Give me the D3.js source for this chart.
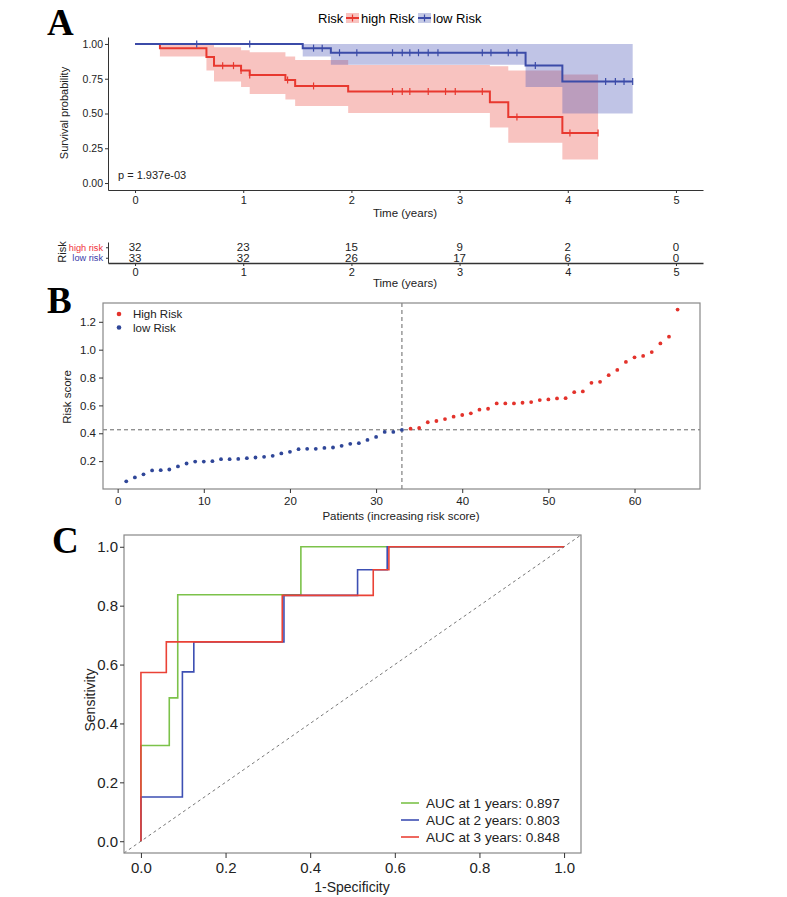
<!DOCTYPE html>
<html>
<head>
<meta charset="utf-8">
<script src="https://cdn.jsdelivr.net/npm/d3@7"></script>
<style>
  body { margin: 0; background: #fff; }
  text { font-family: "Liberation Sans", Arial, sans-serif; }
</style>
</head>
<body>
<script>
// ---------- data: panel A (Kaplan-Meier) ----------
var highTimes = [0, 0.23, 0.66, 0.73, 0.98, 1.06, 1.39, 1.48, 1.97, 3.28, 3.45, 3.95, 4.28];
var highSurv  = [1, 0.969, 0.906, 0.844, 0.81, 0.777, 0.741, 0.698, 0.658, 0.58, 0.475, 0.36, 0.36];
var highLower = [1, 0.91, 0.81, 0.73, 0.69, 0.64, 0.60, 0.554, 0.504, 0.40, 0.29, 0.17, 0.17];
var highUpper = [1, 1, 1, 0.977, 0.955, 0.94, 0.91, 0.885, 0.849, 0.84, 0.81, 0.78, 0.78];
var highCensor = [0.81, 0.91, 0.98, 1.06, 1.41, 1.65, 2.38, 2.47, 2.54, 2.71, 2.87, 2.96, 3.21, 3.53, 4.02, 4.28];

var lowTimes = [0, 1.55, 1.81, 3.61, 3.95, 4.6];
var lowSurv  = [1, 0.97, 0.937, 0.845, 0.73, 0.73];
var lowLower = [1, 0.91, 0.85, 0.69, 0.5, 0.5];
var lowUpper = [1, 1, 1, 1, 1, 1];
var lowCensor = [0.57, 1.06, 1.65, 1.73, 1.89, 2.05, 2.38, 2.47, 2.54, 2.62, 2.71, 2.80,
                 3.21, 3.29, 3.45, 3.53, 3.70, 4.35, 4.44, 4.52, 4.60];

var timeTicks = [0, 1, 2, 3, 4, 5];
var survTicks = [0, 0.25, 0.5, 0.75, 1];
var legendLabels = ["high Risk", "low Risk"];
var riskRows = ["high risk", "low risk"];
var highAtRisk = [32, 23, 15, 9, 2, 0];
var lowAtRisk  = [33, 32, 26, 17, 6, 0];

// ---------- data: panel B (risk score) ----------
var lowScores = [0.055, 0.083, 0.105, 0.133, 0.135, 0.14, 0.162, 0.183, 0.197, 0.197, 0.2,
                 0.214, 0.214, 0.216, 0.221, 0.226, 0.231, 0.238, 0.255, 0.267, 0.286, 0.288,
                 0.288, 0.295, 0.298, 0.31, 0.324, 0.329, 0.352, 0.374, 0.41, 0.41, 0.424];
var highScores = [0.433, 0.438, 0.479, 0.488, 0.502, 0.519, 0.531, 0.543, 0.569, 0.576,
                  0.614, 0.614, 0.614, 0.619, 0.624, 0.638, 0.643, 0.65, 0.652, 0.695, 0.7,
                  0.762, 0.769, 0.817, 0.855, 0.912, 0.945, 0.955, 0.983, 1.045, 1.093, 1.288];
var scoreCutoff = 0.425;
var patientTicks = [0, 10, 20, 30, 40, 50, 60];
var scoreTicks = [0.2, 0.4, 0.6, 0.8, 1.0, 1.2];
var scoreLegend = ["High Risk", "low Risk"];

// ---------- data: panel C (time-dependent ROC) ----------
var roc1Fpr = [0, 0, 0.067, 0.087, 0.378, 1];
var roc1Tpr = [0, 0.325, 0.487, 0.837, 1, 1];
var roc2Fpr = [0, 0, 0.098, 0.125, 0.338, 0.512, 0.582, 1];
var roc2Tpr = [0, 0.15, 0.575, 0.677, 0.835, 0.922, 1, 1];
var roc3Fpr = [0, 0, 0.06, 0.334, 0.549, 0.586, 1];
var roc3Tpr = [0, 0.573, 0.677, 0.835, 0.922, 1, 1];
var rocLabels = ["AUC at 1 years: 0.897", "AUC at 2 years: 0.803", "AUC at 3 years: 0.848"];
var rocTicks = [0, 0.2, 0.4, 0.6, 0.8, 1.0];

var RED = "#e8382f", BLUE = "#3b4ba8";

var svg = d3.select("body").append("svg")
    .attr("width", 787)
    .attr("height", 897);

function styleAxis(g, size, color) {
  g.selectAll("text").style("font-size", size + "px").attr("fill", color || "#222");
  g.selectAll("line").attr("stroke", "#333");
  g.select(".domain").attr("stroke", "#333");
}

function panelLabel(txt, x, y) {
  svg.append("text")
      .attr("x", x).attr("y", y)
      .style("font-family", "'Liberation Serif', 'Times New Roman', serif")
      .style("font-weight", "bold")
      .style("font-size", "37px")
      .text(txt);
}

// ================= Panel A =================
panelLabel("A", 47, 35);

var kmX = d3.scaleLinear().domain([-0.25, 5.25]).range([108, 703]);
var kmY = d3.scaleLinear().domain([-0.05, 1.05]).range([190, 37]);

function zipKm(times, a, b) {
  return times.map(function(t, i) { return {t: t, a: a[i], b: b ? b[i] : null}; });
}
function survAt(times, surv, t) {
  var s = surv[0];
  times.forEach(function(tt, i) { if (tt <= t) s = surv[i]; });
  return s;
}

var band = d3.area().curve(d3.curveStepAfter)
    .x(function(d) { return kmX(d.t); })
    .y0(function(d) { return kmY(d.a); })
    .y1(function(d) { return kmY(d.b); });
var step = d3.line().curve(d3.curveStepAfter)
    .x(function(d) { return kmX(d.t); })
    .y(function(d) { return kmY(d.a); });

svg.append("path").datum(zipKm(highTimes, highLower, highUpper))
    .attr("d", band).attr("fill", RED).attr("fill-opacity", 0.3);
svg.append("path").datum(zipKm(lowTimes, lowLower, lowUpper))
    .attr("d", band).attr("fill", "#4a55b8").attr("fill-opacity", 0.35);

var groups = [
  {times: highTimes, surv: highSurv, censor: highCensor, color: RED},
  {times: lowTimes, surv: lowSurv, censor: lowCensor, color: BLUE}
];
groups.forEach(function(g) {
  svg.append("path").datum(zipKm(g.times, g.surv))
      .attr("d", step).attr("fill", "none")
      .attr("stroke", g.color).attr("stroke-width", 2);
  svg.append("g").selectAll("line")
      .data(g.censor)
      .enter()
      .append("line")
      .attr("x1", function(d) { return kmX(d); })
      .attr("x2", function(d) { return kmX(d); })
      .attr("y1", function(d) { return kmY(survAt(g.times, g.surv, d)) - 3.5; })
      .attr("y2", function(d) { return kmY(survAt(g.times, g.surv, d)) + 3.5; })
      .attr("stroke", g.color).attr("stroke-width", 1.2);
});

var kmYAxis = svg.append("g")
    .attr("transform", "translate(108,0)")
    .call(d3.axisLeft(kmY).tickValues(survTicks).tickFormat(d3.format(".2f"))
        .tickSize(3).tickSizeOuter(0).tickPadding(2));
styleAxis(kmYAxis, 10.5);
var kmXAxis = svg.append("g")
    .attr("transform", "translate(0,190)")
    .call(d3.axisBottom(kmX).tickValues(timeTicks).tickFormat(d3.format("d"))
        .tickSize(3).tickSizeOuter(0).tickPadding(3));
styleAxis(kmXAxis, 11);

svg.append("text").attr("transform", "translate(68,113) rotate(-90)")
    .attr("text-anchor", "middle").style("font-size", "11px").attr("fill", "#222")
    .text("Survival probability");
svg.append("text").attr("x", 405).attr("y", 217)
    .attr("text-anchor", "middle").style("font-size", "11.5px").attr("fill", "#222")
    .text("Time (years)");
svg.append("text").attr("x", 118).attr("y", 179)
    .style("font-size", "11px").attr("fill", "#222")
    .text("p = 1.937e-03");

// legend
svg.append("text").attr("x", 318).attr("y", 22.5).style("font-size", "13px").text("Risk");
var legX = [346, 418];
[RED, BLUE].forEach(function(c, i) {
  var lg = svg.append("g").attr("transform", "translate(" + legX[i] + ",0)");
  lg.append("rect").attr("x", 0).attr("y", 13).attr("width", 13).attr("height", 10)
      .attr("fill", c).attr("fill-opacity", 0.3);
  lg.append("line").attr("x1", 0).attr("x2", 13).attr("y1", 18).attr("y2", 18)
      .attr("stroke", c).attr("stroke-width", 2);
  lg.append("line").attr("x1", 6.5).attr("x2", 6.5).attr("y1", 14.5).attr("y2", 21.5)
      .attr("stroke", c).attr("stroke-width", 1.2);
  lg.append("text").attr("x", 15).attr("y", 22.5).style("font-size", "13px")
      .text(legendLabels[i]);
});

// risk table
var tblY = d3.scalePoint().domain(riskRows).range([242, 263]).padding(0.5);
var tblYAxis = svg.append("g")
    .attr("transform", "translate(108,0)")
    .call(d3.axisLeft(tblY).tickSize(2).tickSizeOuter(0).tickPadding(3));
styleAxis(tblYAxis, 9.2);
tblYAxis.selectAll("text").attr("fill", function(d, i) { return i === 0 ? "#f0303a" : "#3a3aa8"; });
var tblXAxis = svg.append("g")
    .attr("transform", "translate(0,263)")
    .call(d3.axisBottom(kmX).tickValues(timeTicks).tickFormat(d3.format("d"))
        .tickSize(3).tickSizeOuter(0).tickPadding(2));
styleAxis(tblXAxis, 11);
tblXAxis.select(".domain").attr("stroke-width", 1.3);

[highAtRisk, lowAtRisk].forEach(function(vals, r) {
  svg.append("g").selectAll("text")
      .data(vals)
      .enter()
      .append("text")
      .attr("x", function(d, i) { return kmX(timeTicks[i]); })
      .attr("y", tblY(riskRows[r]) + 4)
      .attr("text-anchor", "middle")
      .style("font-size", "11.5px").attr("fill", "#222")
      .text(function(d) { return d; });
});
svg.append("text").attr("transform", "translate(66,252) rotate(-90)")
    .attr("text-anchor", "middle").style("font-size", "11px").attr("fill", "#222")
    .text("Risk");
svg.append("text").attr("x", 405).attr("y", 287)
    .attr("text-anchor", "middle").style("font-size", "11.5px").attr("fill", "#222")
    .text("Time (years)");

// ================= Panel B =================
panelLabel("B", 47, 313);

var rsX = d3.scaleLinear().domain([-1.7, 67.6]).range([103, 700]);
var rsY = d3.scaleLinear().domain([0, 1.335]).range([489, 303]);

var scores = lowScores.map(function(s, i) { return {p: i + 1, s: s, g: 0}; })
    .concat(highScores.map(function(s, i) { return {p: lowScores.length + i + 1, s: s, g: 1}; }));

svg.append("line").attr("x1", 103).attr("x2", 700)
    .attr("y1", rsY(scoreCutoff)).attr("y2", rsY(scoreCutoff))
    .attr("stroke", "#666").attr("stroke-dasharray", "4,3");
svg.append("line").attr("x1", rsX(lowScores.length)).attr("x2", rsX(lowScores.length))
    .attr("y1", 303).attr("y2", 489)
    .attr("stroke", "#666").attr("stroke-dasharray", "4,3");

svg.append("g").selectAll("circle")
    .data(scores)
    .enter()
    .append("circle")
    .attr("cx", function(d) { return rsX(d.p); })
    .attr("cy", function(d) { return rsY(d.s); })
    .attr("r", 1.9)
    .attr("fill", function(d) { return d.g ? "#e3322b" : "#2f4698"; });

svg.append("rect").attr("x", 103).attr("y", 303).attr("width", 597).attr("height", 186)
    .attr("fill", "none").attr("stroke", "#888").attr("stroke-width", 1.2);

var rsXAxis = svg.append("g").attr("transform", "translate(0,489)")
    .call(d3.axisBottom(rsX).tickValues(patientTicks).tickSize(4).tickPadding(4));
rsXAxis.select(".domain").remove();
styleAxis(rsXAxis, 11.5);
var rsYAxis = svg.append("g").attr("transform", "translate(103,0)")
    .call(d3.axisLeft(rsY).tickValues(scoreTicks).tickFormat(d3.format(".1f")).tickSize(4).tickPadding(3));
rsYAxis.select(".domain").remove();
styleAxis(rsYAxis, 11.5);

svg.append("text").attr("transform", "translate(71,397) rotate(-90)")
    .attr("text-anchor", "middle").style("font-size", "11.5px").attr("fill", "#222")
    .text("Risk score");
svg.append("text").attr("x", 401).attr("y", 520)
    .attr("text-anchor", "middle").style("font-size", "11.5px").attr("fill", "#222")
    .text("Patients (increasing risk score)");

["#e3322b", "#2f4698"].forEach(function(c, i) {
  svg.append("circle").attr("cx", 119).attr("cy", 314 + i * 13.5).attr("r", 2.3).attr("fill", c);
  svg.append("text").attr("x", 133).attr("y", 318 + i * 13.5)
      .style("font-size", "11.5px").attr("fill", "#222").text(scoreLegend[i]);
});

// ================= Panel C =================
panelLabel("C", 52, 553);

var rocX = d3.scaleLinear().domain([-0.04, 1.04]).range([124, 581]);
var rocY = d3.scaleLinear().domain([-0.04, 1.04]).range([853, 535]);

svg.append("line")
    .attr("x1", rocX(-0.04)).attr("y1", rocY(-0.04))
    .attr("x2", rocX(1.04)).attr("y2", rocY(1.04))
    .attr("stroke", "#777").attr("stroke-dasharray", "3,3");

var rocLine = d3.line().curve(d3.curveStepAfter)
    .x(function(d) { return rocX(d[0]); })
    .y(function(d) { return rocY(d[1]); });
var rocs = [
  {f: roc1Fpr, t: roc1Tpr, c: "#7cc24a"},
  {f: roc2Fpr, t: roc2Tpr, c: "#3d4fb3"},
  {f: roc3Fpr, t: roc3Tpr, c: "#ea4236"}
];
rocs.forEach(function(r) {
  svg.append("path")
      .datum(r.f.map(function(f, i) { return [f, r.t[i]]; }))
      .attr("d", rocLine).attr("fill", "none")
      .attr("stroke", r.c).attr("stroke-width", 1.6);
});

svg.append("rect").attr("x", 124).attr("y", 535).attr("width", 457).attr("height", 318)
    .attr("fill", "none").attr("stroke", "#888").attr("stroke-width", 1.2);

var rocXAxis = svg.append("g").attr("transform", "translate(0,853)")
    .call(d3.axisBottom(rocX).tickValues(rocTicks).tickFormat(d3.format(".1f")).tickSize(5).tickPadding(4));
rocXAxis.select(".domain").remove();
styleAxis(rocXAxis, 15);
var rocYAxis = svg.append("g").attr("transform", "translate(124,0)")
    .call(d3.axisLeft(rocY).tickValues(rocTicks).tickFormat(d3.format(".1f")).tickSize(4).tickPadding(2));
rocYAxis.select(".domain").remove();
styleAxis(rocYAxis, 15);

svg.append("text").attr("transform", "translate(95,700) rotate(-90)")
    .attr("text-anchor", "middle").style("font-size", "14px").attr("fill", "#222")
    .text("Sensitivity");
svg.append("text").attr("x", 352).attr("y", 892)
    .attr("text-anchor", "middle").style("font-size", "14px").attr("fill", "#222")
    .text("1-Specificity");

rocs.forEach(function(r, i) {
  var yy = 803 + i * 17;
  svg.append("line").attr("x1", 401).attr("x2", 419).attr("y1", yy).attr("y2", yy)
      .attr("stroke", r.c).attr("stroke-width", 1.6);
  svg.append("text").attr("x", 426).attr("y", yy + 5)
      .style("font-size", "13.6px").attr("fill", "#222").text(rocLabels[i]);
});
</script>
</body>
</html>
